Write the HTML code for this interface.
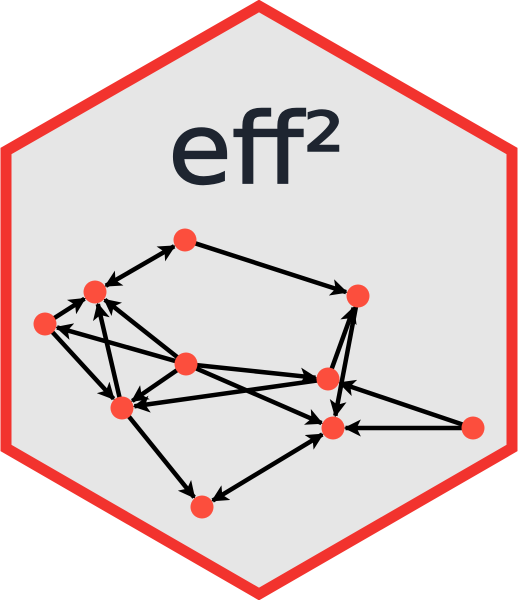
<!DOCTYPE html>
<html><head><meta charset="utf-8"><style>
html,body{margin:0;padding:0;background:#fff;width:518px;height:600px;overflow:hidden}
svg{display:block}
</style></head><body>
<svg id="logo" width="518" height="600" viewBox="0 0 518 600" xmlns="http://www.w3.org/2000/svg">
<defs>
<marker id="ah" viewBox="0 0 10 10" refX="9" refY="5" markerWidth="3.8" markerHeight="3.8" orient="auto-start-reverse" markerUnits="strokeWidth">
<path d="M0,0 L10,5 L0,10 L2.5,5 z" fill="#000"/>
</marker>
</defs>
<polygon points="259,6 512,151 512,448 259,594 6,448 6,151" fill="#e6e6e6" stroke="#f2332e" stroke-width="11" stroke-linejoin="miter"/>
<text x="168" y="183" textLength="177" lengthAdjust="spacingAndGlyphs" font-family="'DejaVu Sans','Liberation Sans',sans-serif" font-size="98" fill="#1e2530" stroke="#1e2530" stroke-width="1.5">eff²</text>
<g id="edges"></g>
<g id="nodes"></g>
</svg>
<script>
const nodeIds = ["A","B","C","D","E","F","G","H","I","J"];
const nodeX = [185,95,45,358,186,328,122,333,473,202];
const nodeY = [240,292,324,296,364,379,408,428,428,507];
const edgeFrom = ["A","A","C","E","C","G","E","E","E","F","E","F","D","I","I","G","H"];
const edgeTo   = ["B","D","B","C","G","B","B","F","G","G","H","D","H","F","H","J","J"];
const edgeBoth = [1,0,0,0,0,0,0,0,0,0,0,0,0,0,0,0,1];
const R = 11.5;
const NS = "http://www.w3.org/2000/svg";
const eg = document.getElementById('edges'), ng = document.getElementById('nodes');
for (let i = 0; i < edgeFrom.length; i++) {
  const a = nodeIds.indexOf(edgeFrom[i]), b = nodeIds.indexOf(edgeTo[i]);
  let x1 = nodeX[a], y1 = nodeY[a], x2 = nodeX[b], y2 = nodeY[b];
  const dx = x2 - x1, dy = y2 - y1, L = Math.hypot(dx, dy), ux = dx / L, uy = dy / L;
  const s1 = edgeBoth[i] ? R + 1 : R - 2;
  x1 += ux * s1; y1 += uy * s1; x2 -= ux * (R + 1); y2 -= uy * (R + 1);
  const ln = document.createElementNS(NS, 'line');
  
  
  ln.setAttribute('x1', x1); ln.setAttribute('y1', y1);
  ln.setAttribute('x2', x2); ln.setAttribute('y2', y2);
  ln.setAttribute('stroke', '#000'); ln.setAttribute('stroke-width', '4.5');
  ln.setAttribute('marker-end', 'url(#ah)');
  if (edgeBoth[i]) ln.setAttribute('marker-start', 'url(#ah)');
  eg.appendChild(ln);
}
for (let i = 0; i < nodeIds.length; i++) {
  const c = document.createElementNS(NS, 'circle');
  
  
  c.setAttribute('cx', nodeX[i]); c.setAttribute('cy', nodeY[i]);
  c.setAttribute('r', R); c.setAttribute('fill', '#fc4e3d');
  ng.appendChild(c);
}
</script>
</body></html>
